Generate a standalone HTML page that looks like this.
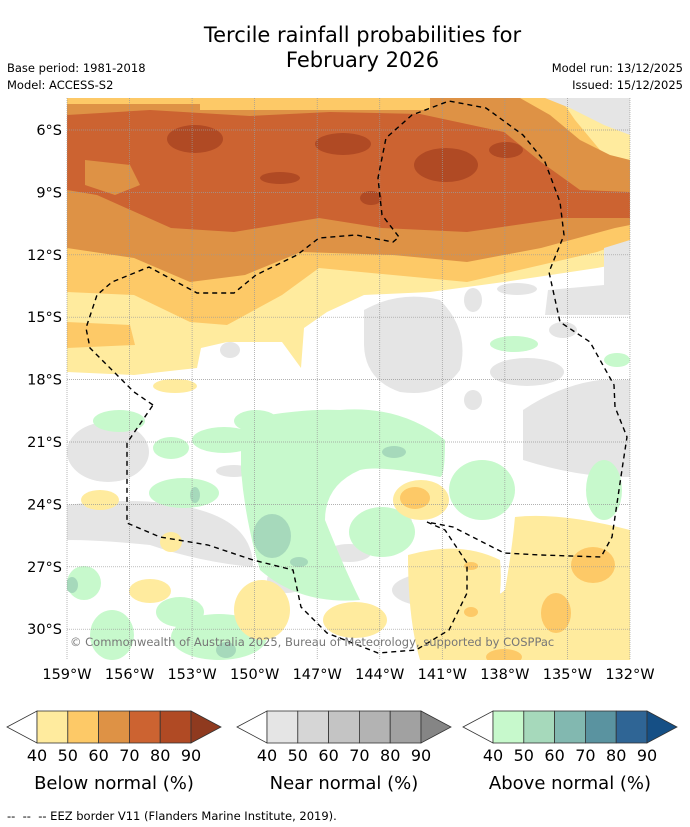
<!DOCTYPE html>
<html><head><meta charset="utf-8"><style>
body{margin:0;width:690px;height:827px;background:#fff;font-family:"DejaVu Sans",sans-serif;position:relative;overflow:hidden}
.t{position:absolute;color:#000;white-space:nowrap}
</style></head><body>
<div class="t" style="left:0;width:725px;top:23px;text-align:center;font-size:21px;line-height:25px">Tercile rainfall probabilities for<br>February 2026</div>
<div class="t" style="left:7px;top:61px;font-size:11.5px">Base period: 1981-2018</div>
<div class="t" style="left:7px;top:78px;font-size:11.5px">Model: ACCESS-S2</div>
<div class="t" style="right:7px;top:61px;font-size:11.5px">Model run: 13/12/2025</div>
<div class="t" style="right:7px;top:78px;font-size:11.5px">Issued: 15/12/2025</div>
<svg id="map" width="690" height="827" style="position:absolute;left:0;top:0">
<defs><clipPath id="mc"><rect x="67" y="98" width="563" height="562"/></clipPath></defs>
<g clip-path="url(#mc)" stroke-linejoin="round">
<rect x="67" y="98" width="563" height="562" fill="#fff"/>
<path d="M67,98 H630 V262 L597,268 L504,282 L430,292 L364,295 L327,312 L304,328 L301,368 L282,342 L227,342 L201,348 L197,368 L134,375 L67,372 Z" fill="#ffeb9e"/>
<path d="M67,98 H630 V240 L597,252 L541,265 L467,282 L393,275 L319,268 L282,295 L227,325 L190,322 L134,295 L67,292 Z" fill="#fdc967"/>
<path d="M67,322 L130,325 L135,345 L67,348 Z" fill="#fdc967"/>
<path d="M560,98 L600,98 L630,130 V170 L600,150 L575,120 Z" fill="#ffeb9e"/>
<path d="M67,104 L200,104 L200,110 L430,110 L430,98 L520,98 L550,115 L580,140 L610,155 L630,160 V225 L615,228 L541,248 L467,262 L393,255 L301,252 L245,275 L190,282 L134,258 L67,248 Z" fill="#de9245"/>
<path d="M67,115 L150,110 L250,116 L330,112 L420,114 L504,132 L541,162 L580,190 L630,192 V218 L564,218 L467,232 L382,228 L319,218 L234,232 L171,228 L97,195 L67,190 Z" fill="#cc6331"/>
<path d="M85,160 L130,165 L140,185 L115,195 L85,185 Z" fill="#de9245"/>
<g fill="#b04a24">
<ellipse cx="195" cy="139" rx="28" ry="14"/><ellipse cx="343" cy="144" rx="28" ry="11"/><ellipse cx="446" cy="165" rx="32" ry="17"/>
<ellipse cx="506" cy="150" rx="17" ry="8"/><ellipse cx="280" cy="178" rx="20" ry="6"/><ellipse cx="371" cy="198" rx="11" ry="7"/>
</g>
<path d="M545,98 H630 V135 L604,125 L570,108 Z" fill="#e5e5e5"/>
<path d="M604,248 L630,240 V315 L545,315 L548,290 L604,285 Z" fill="#e5e5e5"/>
<g fill="#e5e5e5">
<ellipse cx="473" cy="300" rx="9" ry="12"/><ellipse cx="517" cy="289" rx="20" ry="6"/>
<path d="M364,310 Q400,290 440,300 Q470,330 460,370 Q440,398 400,392 Q365,380 364,345 Z"/>
<ellipse cx="527" cy="372" rx="37" ry="14"/><ellipse cx="563" cy="330" rx="14" ry="8"/>
<ellipse cx="108" cy="452" rx="41" ry="30"/><ellipse cx="234" cy="471" rx="18" ry="6"/>
<path d="M67,505 Q150,495 200,510 Q253,525 253,567 Q200,562 150,545 Q100,540 67,540 Z"/>
<ellipse cx="399" cy="521" rx="13" ry="6"/><ellipse cx="349" cy="553" rx="22" ry="9"/><ellipse cx="435" cy="590" rx="43" ry="17"/>
<ellipse cx="287" cy="580" rx="20" ry="13"/><ellipse cx="501" cy="605" rx="11" ry="12"/>
<path d="M523,410 Q560,385 600,380 L630,380 V477 Q580,478 523,460 Z"/><ellipse cx="473" cy="400" rx="9" ry="10"/>
<ellipse cx="230" cy="350" rx="10" ry="8"/>
</g>
<g fill="#c7f9cc">
<ellipse cx="514" cy="344" rx="24" ry="8"/><ellipse cx="617" cy="360" rx="13" ry="7"/><ellipse cx="119" cy="421" rx="26" ry="11"/>
<ellipse cx="171" cy="448" rx="18" ry="11"/><ellipse cx="224" cy="440" rx="32" ry="13"/><ellipse cx="256" cy="421" rx="22" ry="11"/>
<path d="M241,420 Q300,408 340,410 Q400,405 445,440 Q445,477 440,477 Q380,465 360,470 Q325,485 325,520 Q345,570 360,600 Q300,605 260,570 Q245,520 241,470 Z"/>
<ellipse cx="184" cy="493" rx="35" ry="15"/><ellipse cx="482" cy="490" rx="33" ry="30"/><ellipse cx="604" cy="490" rx="18" ry="30"/>
<ellipse cx="382" cy="532" rx="33" ry="25"/><ellipse cx="84" cy="583" rx="17" ry="17"/><ellipse cx="112" cy="635" rx="22" ry="25"/>
<ellipse cx="180" cy="612" rx="24" ry="15"/><ellipse cx="219" cy="637" rx="48" ry="23"/>
</g>
<g fill="#a6d9bb"><ellipse cx="394" cy="452" rx="12" ry="6"/><ellipse cx="195" cy="495" rx="5" ry="8"/><ellipse cx="272" cy="536" rx="19" ry="22"/><ellipse cx="299" cy="562" rx="9" ry="5"/><ellipse cx="72" cy="585" rx="6" ry="8"/><ellipse cx="226" cy="650" rx="10" ry="8"/></g>
<g fill="#ffeb9e">
<path d="M515,517 Q560,512 630,530 V660 L470,660 Q478,610 505,590 Q512,550 515,517 Z"/>
<path d="M408,555 Q460,540 500,560 Q506,620 470,660 L420,660 Q408,620 408,555 Z"/>
<ellipse cx="421" cy="500" rx="28" ry="20"/><ellipse cx="175" cy="386" rx="22" ry="7"/><ellipse cx="100" cy="500" rx="19" ry="10"/>
<ellipse cx="171" cy="542" rx="11" ry="10"/><ellipse cx="150" cy="591" rx="21" ry="12"/><ellipse cx="262" cy="610" rx="28" ry="30"/><ellipse cx="355" cy="620" rx="32" ry="18"/>
</g>
<g fill="#fdc967"><ellipse cx="415" cy="498" rx="15" ry="11"/><ellipse cx="593" cy="565" rx="22" ry="18"/><ellipse cx="556" cy="613" rx="15" ry="20"/><ellipse cx="471" cy="566" rx="7" ry="4"/><ellipse cx="471" cy="612" rx="7" ry="5"/><ellipse cx="504" cy="657" rx="18" ry="8"/></g>
</g>
<g id="grid" stroke="#999" stroke-width="0.7" stroke-dasharray="1,1"></g>
<path fill="none" stroke="#000" stroke-width="1.4" stroke-dasharray="5,4" d="M153,405 L134,392 L90,348 L86,328 L97,295 L112,282 L149,267 L197,293 L234,293 L256,275 L297,255 L319,238 L356,235 L393,242 L399,237 L382,215 L378,178 L386,138 L412,115 L449,101 L486,108 L523,135 L545,162 L560,202 L564,235 L549,272 L560,322 L590,342 L614,385 L615,407 L627,437 L623,463 L612,537 L601,557 L541,555 L504,553 L453,527 L427,522 L445,530 L467,563 L467,593 L449,630 L416,650 L378,653 L327,633 L301,607 L293,570 L253,560 L208,545 L160,537 L127,523 L127,443 Z"/>
<text x="70" y="646" font-size="11.5" fill="#777" font-family="DejaVu Sans">© Commonwealth of Australia 2025, Bureau of Meteorology, supported by COSPPac</text>
<g id="axes" font-family="DejaVu Sans" font-size="14.5" fill="#000"></g>
<g id="cbars" font-family="DejaVu Sans"></g>
</svg>
<div class="t" style="left:7px;top:809px;font-size:11.5px">-- &nbsp;-- &nbsp;-- EEZ border V11 (Flanders Marine Institute, 2019).</div>
<script>
const lonTicks=[159,156,153,150,147,144,141,138,135,132];
const latTicks=[6,9,12,15,18,21,24,27,30];
const cbTicks=["40","50","60","70","80","90"];
const cbTitles=["Below normal (%)","Near normal (%)","Above normal (%)"];
const cbColors=[["#ffeb9e","#fdc967","#de9245","#cc6331","#b04a24","#8f3a1f"],["#e5e5e5","#d6d6d6","#c4c4c4","#b3b3b3","#a1a1a1","#858585"],["#c7f9cc","#a6d9bb","#82b8b0","#5a93a0","#2f6595","#154f85"]];
const NS="http://www.w3.org/2000/svg";
const xL=lon=>67+(159-lon)*20.85, yL=lat=>130+(lat-6)*20.8;
const grid=document.getElementById('grid'),axes=document.getElementById('axes'),cb=document.getElementById('cbars');
function mk(tag,at,p){const e=document.createElementNS(NS,tag);for(const k in at)e.setAttribute(k,at[k]);p.appendChild(e);return e;}
lonTicks.forEach(l=>{const x=xL(l);
 const g=mk('line',{x1:x,x2:x,y1:98,y2:660},grid);
 
 
 const t=mk('text',{x:x,y:679,'text-anchor':'middle'},axes);t.textContent=l+'°W';
 
 });
latTicks.forEach(l=>{const y=yL(l);
 const g=mk('line',{x1:67,x2:630,y1:y,y2:y},grid);
 
 
 const t=mk('text',{x:62,y:y+5,'text-anchor':'end'},axes);t.textContent=l+'°S';
 
 });
[7,237,463].forEach((x0,i)=>{const g=mk('g',{},cb);
 
 
 mk('polygon',{points:`${x0},727 ${x0+30},711 ${x0+30},743`,fill:'#fff',stroke:'#333','stroke-width':0.8},g);
 for(let j=0;j<5;j++)mk('rect',{x:x0+30+j*30.8,y:711,width:30.8,height:32,fill:cbColors[i][j],stroke:'#333','stroke-width':0.8},g);
 mk('polygon',{points:`${x0+184},711 ${x0+214},727 ${x0+184},743`,fill:cbColors[i][5],stroke:'#333','stroke-width':0.8},g);
 cbTicks.forEach((t,j)=>{const e=mk('text',{x:x0+30+j*30.8,y:761,'text-anchor':'middle','font-size':16},g);e.textContent=t;});
 const tt=mk('text',{x:x0+107,y:789,'text-anchor':'middle','font-size':18},g);tt.textContent=cbTitles[i];});
</script>
</body></html>
